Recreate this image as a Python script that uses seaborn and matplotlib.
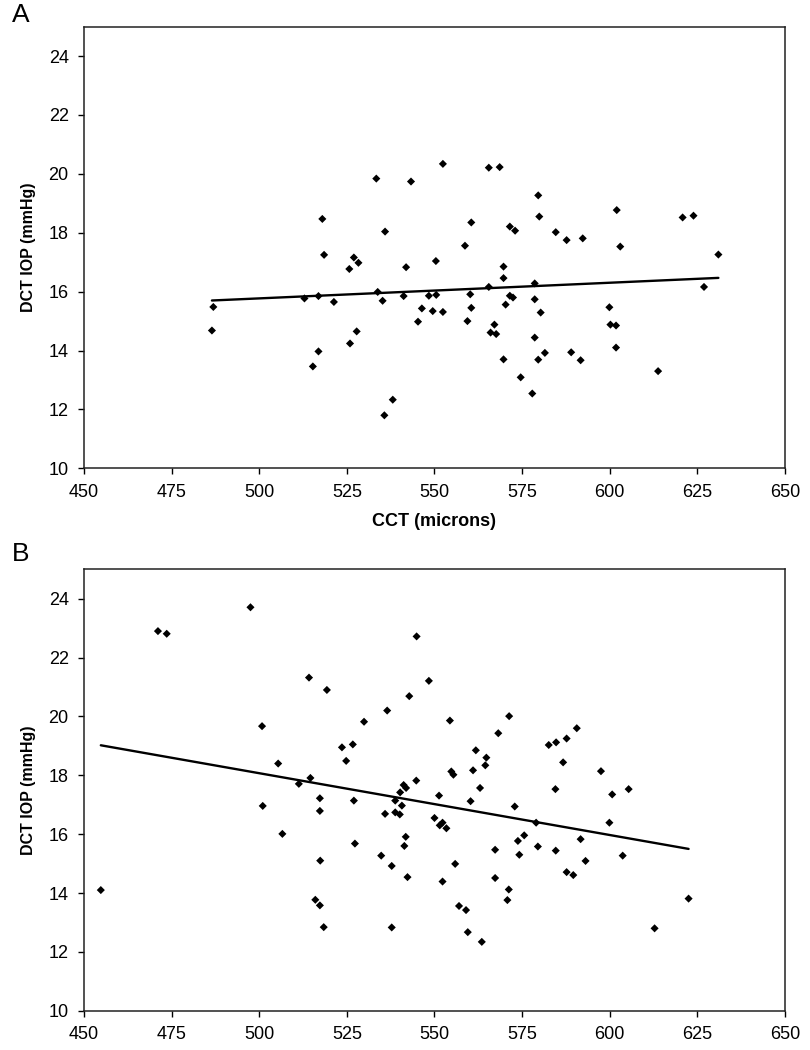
import numpy as np
import pandas as pd
import matplotlib
matplotlib.use("Agg")
import matplotlib.pyplot as plt
import seaborn as sns

# ---- Panel A data ----
cct_a = [486.5, 486.9, 512.9, 516.9, 515.3, 516.9, 518.0, 518.5, 521.3, 525.7,
         527.0, 528.3, 525.9, 527.8, 533.4, 533.8, 535.2, 535.9, 535.7, 538.1,
         541.2, 541.9, 543.3, 545.3, 546.4, 548.4, 549.5, 550.4, 550.5, 552.4,
         552.4, 558.7, 560.5, 560.2, 560.5, 559.4,
         565.5, 568.6, 579.6, 579.9, 571.5, 573.0, 584.6, 587.7, 592.3, 602.0,
         603.0, 569.7, 569.7, 565.5, 578.6, 571.5, 572.4, 578.6, 570.3, 580.3,
         599.9, 567.1, 600.2, 601.8,
         566.0, 567.6, 578.6, 601.8, 589.0, 581.5, 569.7, 579.6, 591.7, 574.6,
         577.9, 613.8,
         620.8, 623.9, 631.0, 626.9]
iop_a = [14.68, 15.48, 15.77, 15.85, 13.46, 13.97, 18.47, 17.25, 15.65, 16.77,
         17.16, 16.98, 14.24, 14.65, 19.84, 15.99, 15.69, 18.04, 11.80, 12.33,
         15.85, 16.83, 19.74, 14.98, 15.43, 15.86, 15.34, 17.04, 15.89, 15.31,
         20.34, 17.56, 18.35, 15.91, 15.45, 15.00,
         20.21, 20.23, 19.27, 18.55, 18.21, 18.07, 18.02, 17.75, 17.81, 18.77,
         17.53, 16.85, 16.46, 16.16, 16.28, 15.86, 15.80, 15.74, 15.56, 15.29,
         15.47, 14.88, 14.88, 14.85,
         14.61, 14.56, 14.44, 14.10, 13.94, 13.92, 13.70, 13.69, 13.67, 13.09,
         12.54, 13.30,
         18.52, 18.58, 17.26, 16.16]

# ---- Panel B data ----
cct_b = [454.8, 471.1, 473.6, 497.5, 544.9, 500.8, 501.0, 505.4, 506.6, 511.3,
         514.2, 514.6, 517.3, 517.3, 517.4, 516.0, 517.3, 518.4, 519.3, 523.6,
         526.7, 524.8, 527.0, 527.3, 529.9, 534.8, 535.9, 536.5, 537.8, 537.8,
         538.8, 538.8, 540.1, 540.2, 540.7, 541.2, 541.9, 542.8, 541.8, 541.4,
         542.3, 544.8, 548.4, 550.0,
         554.4, 571.3, 568.2, 590.6, 587.7, 584.7, 582.6, 561.8, 564.8, 564.5,
         561.0, 554.8, 555.4, 586.7, 597.5, 563.0, 584.5, 600.7, 605.4, 551.3,
         560.3, 572.9, 579.0, 599.9, 552.3, 551.5, 553.4, 575.6, 573.8, 591.7,
         567.3, 579.5, 584.6, 574.2, 603.7, 593.1, 555.9, 587.7, 589.6, 567.3,
         552.3, 571.2, 570.8, 622.5, 557.0, 559.0, 612.8, 559.5, 563.5]
iop_b = [14.10, 22.90, 22.81, 23.71, 22.72, 19.67, 16.96, 18.40, 16.01, 17.71,
         21.32, 17.91, 17.22, 16.79, 15.10, 13.77, 13.58, 12.84, 20.90, 18.95,
         19.05, 18.49, 17.14, 15.68, 19.82, 15.27, 16.69, 20.20, 14.92, 12.83,
         17.14, 16.74, 16.67, 17.42, 16.97, 17.67, 17.57, 20.69, 15.91, 15.60,
         14.54, 17.82, 21.21, 16.55,
         19.86, 20.01, 19.43, 19.60, 19.25, 19.12, 19.03, 18.85, 18.60, 18.34,
         18.17, 18.13, 18.02, 18.44, 18.14, 17.57, 17.53, 17.35, 17.53, 17.31,
         17.12, 16.94, 16.39, 16.39, 16.39, 16.30, 16.20, 15.96, 15.77, 15.83,
         15.47, 15.58, 15.44, 15.30, 15.27, 15.09, 14.99, 14.71, 14.61, 14.51,
         14.39, 14.12, 13.76, 13.81, 13.56, 13.42, 12.80, 12.67, 12.34]

x_ticks = [450, 475, 500, 525, 550, 575, 600, 625, 650]
y_ticks = [10, 12, 14, 16, 18, 20, 22, 24]

sns.set_theme(style="white")
plt.rcParams['font.family'] = ['Liberation Sans', 'DejaVu Sans']
plt.rcParams['text.color'] = 'black'
plt.rcParams['axes.labelcolor'] = 'black'
plt.rcParams['xtick.color'] = 'black'
plt.rcParams['ytick.color'] = 'black'

fig = plt.figure(figsize=(8.1, 10.5), dpi=100)
ax_a = fig.add_axes([0.1037, 0.5540, 0.8654, 0.4206])
ax_b = fig.add_axes([0.1037, 0.0374, 0.8654, 0.4204])

for ax, xs, ys in [(ax_a, cct_a, iop_a), (ax_b, cct_b, iop_b)]:
    df = pd.DataFrame({"x": xs, "y": ys})
    sns.regplot(data=df, x="x", y="y", ax=ax, ci=None, marker="D", color="black",
                scatter_kws=dict(s=17, color="black", edgecolor="none", alpha=1),
                line_kws=dict(color="black", lw=1.7))
    ax.set_xlim(450, 650)
    ax.set_ylim(10, 25)
    ax.set_xticks(x_ticks)
    ax.set_yticks(y_ticks)
    ax.tick_params(axis="both", direction="out", length=4, width=1, color="black",
                   labelsize=13, labelcolor="black", left=True, bottom=True)
    ax.tick_params(axis="x", pad=7)
    ax.tick_params(axis="y", pad=7)
    for sp in ax.spines.values():
        sp.set_color("#222222")
        sp.set_linewidth(1.1)
        sp.set_visible(True)
    ax.set_ylabel("DCT IOP (mmHg)", fontsize=11.5, fontweight="bold", color="black",
                  labelpad=9)
    ax.set_xlabel("")

ax_a.set_xlabel("CCT (microns)", fontsize=13, fontweight="bold", color="black",
                labelpad=9)

fig.text(0.015, 0.997, "A", fontsize=19, va="top", ha="left", color="black")
fig.text(0.015, 0.484, "B", fontsize=19, va="top", ha="left", color="black")

fig.savefig("out.png", dpi=100, facecolor="white")
